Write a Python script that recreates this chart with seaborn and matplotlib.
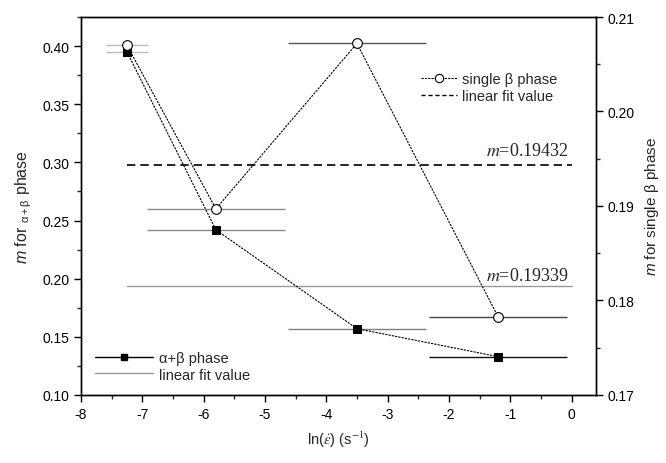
import numpy as np
import pandas as pd
import matplotlib
matplotlib.use("Agg")
import matplotlib.pyplot as plt
from matplotlib.lines import Line2D
from matplotlib.ticker import MultipleLocator
import seaborn as sns

# ---- data ----
ln_rate = [-7.25, -5.8, -3.5, -1.2]
rate_half_width = [0.34, 1.13, 1.13, 1.13]
m_alpha_beta = [0.395, 0.242, 0.157, 0.133]
m_single_beta = [0.2070, 0.1897, 0.2072, 0.1783]
fit_alpha_beta = 0.19339
fit_single_beta = 0.19432
fit_x = [-7.25, 0.0]

sns.set_style("ticks")
plt.rcParams['font.family'] = ['Liberation Sans', 'DejaVu Sans']
plt.rcParams['mathtext.fontset'] = 'custom'
plt.rcParams['mathtext.rm'] = 'Liberation Sans'
plt.rcParams['mathtext.it'] = 'Liberation Sans:italic'

fig = plt.figure(figsize=(6.66, 4.64), dpi=100)
ax1 = fig.add_axes([0.1216, 0.1466, 0.7734, 0.8146])
ax2 = ax1.twinx()

df = pd.DataFrame({"x": ln_rate, "ab": m_alpha_beta, "b": m_single_beta})

# error bar colours (style)
ab_bar_colors = ['#bbbbbb', '#8a8a8a', '#808080', '#111111']
b_bar_colors = ['#bbbbbb', '#8a8a8a', '#555555', '#444444']

for x, w, y, c in zip(ln_rate, rate_half_width, m_alpha_beta, ab_bar_colors):
    ax1.errorbar([x], [y], xerr=[w], fmt='none', ecolor=c, elinewidth=1.0, capsize=0)
for x, w, y, c in zip(ln_rate, rate_half_width, m_single_beta, b_bar_colors):
    ax2.errorbar([x], [y], xerr=[w], fmt='none', ecolor=c, elinewidth=1.0, capsize=0)

# linear fits
ax1.plot(fit_x, [fit_alpha_beta] * 2, color='#999999', lw=1.0, zorder=1)
ax2.plot(fit_x, [fit_single_beta] * 2, color='black', lw=1.2, ls=(0, (5, 3)), zorder=1)

# data lines
sns.lineplot(data=df, x="x", y="ab", ax=ax1, color='black', lw=0.8,
             linestyle=(0, (2, 1)), marker='s', markersize=6,
             markerfacecolor='black', markeredgecolor='black', legend=False, zorder=3)
sns.lineplot(data=df, x="x", y="b", ax=ax2, color='black', lw=0.8,
             linestyle=(0, (2, 1)), marker='o', markersize=7,
             markerfacecolor='white', markeredgecolor='black', markeredgewidth=0.8,
             legend=False, zorder=3)

# limits & ticks
ax1.set_xlim(-8, 0.4)
ax1.set_ylim(0.10, 0.425)
ax2.set_ylim(0.17, 0.21)
ax1.xaxis.set_major_locator(MultipleLocator(1))
ax1.xaxis.set_minor_locator(MultipleLocator(0.5))
ax1.yaxis.set_major_locator(MultipleLocator(0.05))
ax1.yaxis.set_minor_locator(MultipleLocator(0.025))
ax2.yaxis.set_major_locator(MultipleLocator(0.01))
ax2.yaxis.set_minor_locator(MultipleLocator(0.005))
ax1.yaxis.set_major_formatter(matplotlib.ticker.FormatStrFormatter('%.2f'))
ax2.yaxis.set_major_formatter(matplotlib.ticker.FormatStrFormatter('%.2f'))
ax1.xaxis.set_major_formatter(matplotlib.ticker.FuncFormatter(lambda v, p: f"{int(round(v))}"))

for ax in (ax1, ax2):
    ax.tick_params(which='major', direction='out', length=5, width=1.0, labelsize=10, colors='black')
    ax.tick_params(which='minor', direction='out', length=3, width=1.0)
    for s in ax.spines.values():
        s.set_visible(True)
        s.set_linewidth(1.0)
        s.set_color('black')
ax1.tick_params(top=False, which='both')
ax2.tick_params(top=False, which='both')

ax1.set_xlabel(r"ln($\dot{\varepsilon}$) (s$^{-1}$)", fontsize=10.5, labelpad=6,
               math_fontfamily='stix')
ax1.set_ylabel(r"$m$ for $\mathregular{_{α+β}}$ phase", fontsize=11.5, labelpad=6)
ax2.set_ylabel(r"$m$ for single β phase", fontsize=11, labelpad=6)

# annotations
ax2.text(-0.05, fit_single_beta + 0.0006, r"$m$=0.19432", ha='right', va='bottom',
         fontsize=13, family='Liberation Serif', math_fontfamily='stix')
ax1.text(-0.05, fit_alpha_beta + 0.0022, r"$m$=0.19339", ha='right', va='bottom',
         fontsize=13, family='Liberation Serif', math_fontfamily='stix')

# legends
h_b = Line2D([], [], color='black', lw=0.8, ls=(0, (2, 1)), marker='o', markersize=6,
             markerfacecolor='white', markeredgecolor='black', markeredgewidth=0.8)
h_bf = Line2D([], [], color='black', lw=1.0, ls=(0, (3, 2)))
leg1 = ax2.legend([h_b, h_bf], ["single β phase", "linear fit value"],
                  loc='upper right', bbox_to_anchor=(0.935, 0.87), frameon=False,
                  fontsize=10.5, handlelength=2.5, handletextpad=0.3, labelspacing=0.2,
                  borderaxespad=0)

h_ab = Line2D([], [], color='black', lw=1.0, marker='s', markersize=5,
              markerfacecolor='black', markeredgecolor='black')
h_abf = Line2D([], [], color='#999999', lw=1.0)
leg2 = ax1.legend([h_ab, h_abf], ["α+β phase", "linear fit value"],
                  loc='lower left', bbox_to_anchor=(0.015, 0.02), frameon=False,
                  fontsize=10.5, handlelength=4.0, handletextpad=0.4, labelspacing=0.2,
                  borderaxespad=0)

fig.savefig("out.png", dpi=100)
